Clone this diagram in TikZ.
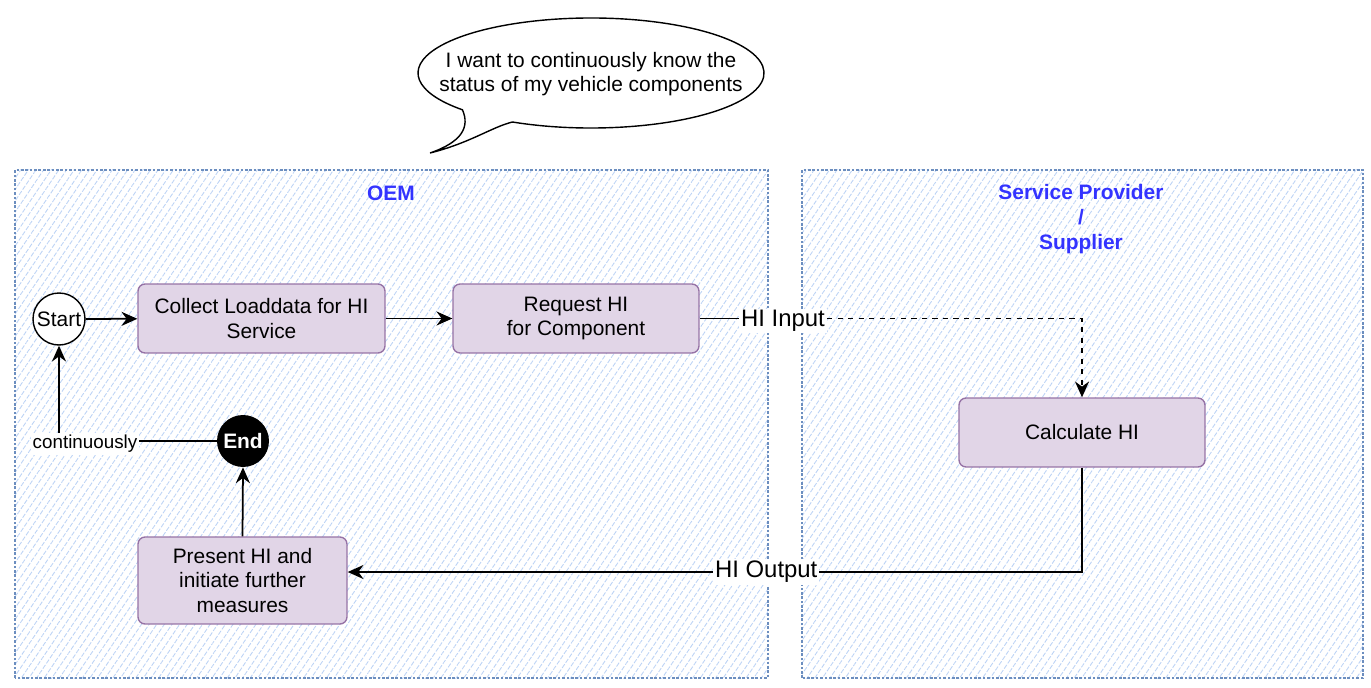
\documentclass[tikz,border=0pt]{standalone}
\usepackage{fontspec}
\setmainfont{Liberation Sans}
\usetikzlibrary{arrows.meta, patterns.meta, positioning}
\definecolor{procfill}{HTML}{E1D5E7}
\definecolor{procdraw}{HTML}{9673A6}
\definecolor{lanedraw}{HTML}{6C8EBF}
\definecolor{lanehatch}{HTML}{BCD3F5}
\definecolor{lanetitle}{HTML}{3333FF}
\tikzset{>={Stealth[length = 9pt, width = 8pt]}}
\tikzset{
  lane/.style = {draw = lanedraw, line width = 1pt, dash pattern = on 1.5pt off 1pt,
    pattern = {Lines[angle = 56, distance = 3.6pt, line width = 0.5pt]}, pattern color = lanehatch},
  lanelabel/.style = {text = lanetitle, font = \fontsize{11.9}{14.2}\selectfont\bfseries, align = center},
  process/.style = {draw = procdraw, fill = procfill, line width = 0.8pt, rounded corners = 4pt,
    align = center, font = \fontsize{11.9}{14.2}\selectfont},
  startstate/.style = {circle, draw, fill = white, line width = 0.8pt, minimum size = 1.04cm,
    inner sep = 0pt, font = \fontsize{11.9}{14.2}\selectfont},
  endstate/.style = {circle, fill = black, text = white, minimum size = 1.04cm, inner sep = 0pt,
    font = \fontsize{11.9}{14.2}\selectfont\bfseries},
  flow/.style = {line width = 1pt},
  flowlabel/.style = {fill = white, inner sep = 1pt, font = \fontsize{13.6}{16}\selectfont}
}
\begin{document}
\begin{tikzpicture}[x = 0.02cm, y = 0.02cm]
\useasboundingbox (0,0) rectangle (1371,687);
\draw[line width = 0.8pt, fill = white] (591,614) ++(243:173 and 55)
  arc[start angle = 243, end angle = 582, x radius = 173, y radius = 55]
  .. controls (470,560) and (462,545) .. (430,534)
  .. controls (470,544) and (492,560) .. cycle;
\node[align = center, font = \fontsize{11.9}{14}\selectfont] (wish) at (591,613) {I want to continuously know the\\status of my vehicle components};
\draw[lane] (15,9) rectangle (768,517);
\draw[lane] (802,9) rectangle (1363,517);
\node[lanelabel] (oem) at (391,494) {OEM};
\node[lanelabel] (provider) at (1081,468) {Service Provider\\/\\Supplier};
\node[startstate] (start) at (59,368) {Start};
\node[process, minimum width = 4.94cm, minimum height = 1.38cm] (collect) at (261.5,368.5) {Collect Loaddata for HI\\Service};
\node[process, minimum width = 4.92cm, minimum height = 1.38cm] (request) at (576,368.5) {Request HI\\for Component};
\node[process, minimum width = 4.92cm, minimum height = 1.38cm] (calc) at (1082,254.5) {Calculate HI};
\node[process, minimum width = 4.18cm, minimum height = 1.74cm] (present) at (242.5,106.5) {Present HI and\\initiate further\\measures};
\node[endstate] (end) at (243,246) {End};
\draw[flow, ->] (start) -- (collect);
\draw[flow, ->] (collect) -- (request);
\node[flowlabel] (hiin) at (783,366) {HI Input};
\draw[flow] (request.east) -- (hiin.west |- request.east);
\draw[flow, dashed, ->] (hiin.east |- request.east) -| (calc.north);
\coordinate (outturn) at (1082,115);
\draw[flow, ->] (calc.south) -- (outturn) -- node[flowlabel, pos = 0.43] (hiout) {HI Output} (present.east |- outturn);
\draw[flow, ->] (present.north) -- (end.south);
\coordinate (loopturn) at (59,246);
\draw[flow] (end.west) -- (loopturn);
\draw[flow, ->] (loopturn) -- (start.south);
\node[fill = white, inner sep = 1pt, font = \fontsize{10.7}{12}\selectfont] (cont) at (85,243) {continuously};
\end{tikzpicture}
\end{document}
